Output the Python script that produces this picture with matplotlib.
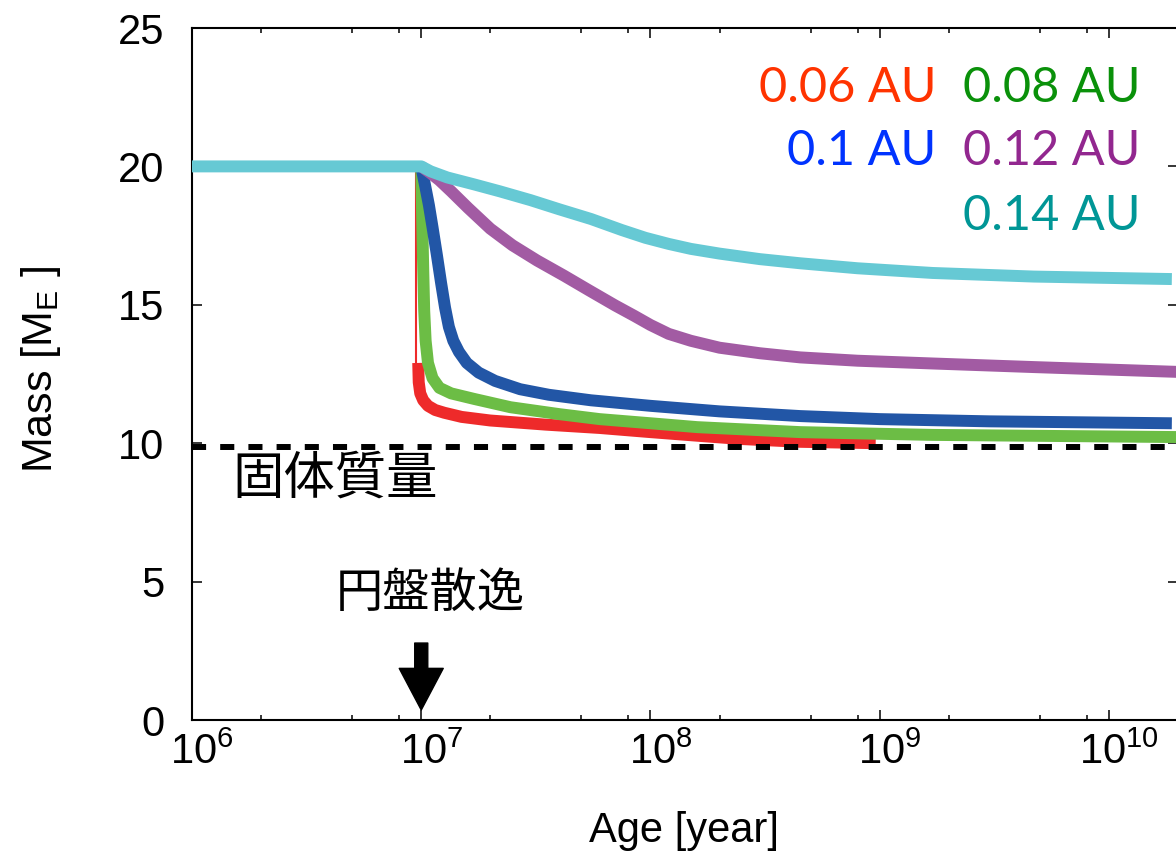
import matplotlib
matplotlib.use("Agg")
import matplotlib.pyplot as plt
from matplotlib.ticker import FixedLocator, NullFormatter
from matplotlib.transforms import ScaledTranslation

plt.rcParams['font.family'] = ['Liberation Sans', 'DejaVu Sans']
plt.rcParams['mathtext.fontset'] = 'custom'
plt.rcParams['mathtext.rm'] = 'Liberation Sans'
plt.rcParams['mathtext.it'] = 'Liberation Sans:italic'
plt.rcParams['mathtext.bf'] = 'Liberation Sans:bold'
plt.rcParams['lines.scale_dashes'] = False

######################################################################
# Data: age [year] vs. planet mass [M_E]
age_006_drop = [9.5e6, 9.5e6]
mass_006_drop = [20.0, 12.9]
age_006 = [9.7e6, 9.75e6, 9.9e6, 1.02e7, 1.07e7, 1.15e7, 1.26e7, 1.5e7, 2.0e7, 3.5e7,
           6.0e7, 1.0e8, 1.6e8, 2.5e8, 4.5e8, 9.6e8]
mass_006 = [12.9, 12.2, 11.8, 11.55, 11.35, 11.2, 11.1, 10.95, 10.82, 10.67,
            10.55, 10.4, 10.27, 10.15, 10.05, 10.0]

age_008 = [1.0e7, 1.01e7, 1.02e7, 1.03e7, 1.045e7, 1.07e7, 1.12e7, 1.2e7, 1.35e7, 1.7e7,
           2.45e7, 4.0e7, 6.0e7, 1.0e8, 1.6e8, 4.5e8, 1.7e9, 2.1e10]
mass_008 = [20.0, 18.0, 16.3, 14.8, 13.7, 12.9, 12.35, 12.0, 11.8, 11.6,
            11.3, 11.05, 10.87, 10.72, 10.58, 10.4, 10.3, 10.22]

age_010 = [1.0e7, 1.04e7, 1.08e7, 1.12e7, 1.17e7, 1.22e7, 1.27e7, 1.32e7, 1.38e7, 1.46e7,
           1.58e7, 1.78e7, 2.1e7, 2.7e7, 3.6e7, 5.5e7, 1.0e8, 2.0e8, 4.5e8, 1.0e9,
           3.0e9, 1.88e10]
mass_010 = [20.0, 19.3, 18.6, 17.8, 16.8, 15.8, 14.9, 14.2, 13.7, 13.3,
            12.9, 12.55, 12.25, 11.95, 11.75, 11.55, 11.35, 11.15, 10.98, 10.87,
            10.79, 10.72]

age_012 = [1.0e7, 1.1e7, 1.2e7, 1.35e7, 1.6e7, 2.0e7, 2.5e7, 3.2e7, 4.2e7, 5.4e7,
           7.0e7, 8.5e7, 1.0e8, 1.2e8, 1.5e8, 2.0e8, 3.0e8, 4.5e8, 8.0e8, 1.7e9,
           4.7e9, 2.1e10]
mass_012 = [20.0, 19.75, 19.5, 19.1, 18.5, 17.75, 17.15, 16.6, 16.05, 15.52,
            14.98, 14.6, 14.27, 13.95, 13.7, 13.45, 13.25, 13.1, 12.98, 12.88,
            12.75, 12.57]

age_014 = [1.0e6, 1.0e7, 1.1e7, 1.3e7, 1.7e7, 2.2e7, 3.0e7, 4.0e7, 5.5e7, 7.5e7,
           9.5e7, 1.2e8, 1.5e8, 2.0e8, 3.0e8, 4.5e8, 8.0e8, 1.7e9, 4.7e9, 1.88e10]
mass_014 = [20.0, 20.0, 19.82, 19.6, 19.35, 19.1, 18.78, 18.45, 18.1, 17.7,
            17.42, 17.2, 17.02, 16.85, 16.65, 16.5, 16.32, 16.15, 16.02, 15.93]

solid_mass = 9.88
solid_age_range = [1.0e6, 1.88e10]
disk_dispersal_age = 1.0e7

labels = ["0.06 AU", "0.08 AU", "0.1 AU", "0.12 AU", "0.14 AU"]
label_colors = ["#ff3300", "#0a910a", "#0033ff", "#92278f", "#009696"]
line_colors = ["#ee2a2a", "#6cbd45", "#2256a6", "#a25ba3", "#66c9d4"]

x_major = [1e6, 1e7, 1e8, 1e9, 1e10]
x_minor = [m * 10.0 ** e for e in range(6, 11) for m in (2, 5, 8)]
y_major = [0, 5, 10, 15, 20, 25]

######################################################################
fig = plt.figure(figsize=(11.76, 8.55), dpi=100)
ax = fig.add_axes([192 / 1176, 1 - 720 / 855, 986 / 1176, 692 / 855])

lw = 8.6
kw = dict(lw=lw, solid_capstyle='butt', solid_joinstyle='round')
ax.plot(age_006_drop, mass_006_drop, color=line_colors[0], lw=1.5, zorder=2)
ax.plot(age_006, mass_006, color=line_colors[0], zorder=2, **kw)
ax.plot(age_008, mass_008, color=line_colors[1], zorder=3, **kw)
ax.plot(age_010, mass_010, color=line_colors[2], zorder=4, **kw)
ax.plot(age_012, mass_012, color=line_colors[3], zorder=5, **kw)
ax.plot(age_014, mass_014, color=line_colors[4], zorder=6, **kw)

# solid core mass
ax.plot(solid_age_range, [solid_mass, solid_mass], color='black', lw=4.3,
        linestyle=(0, (10.15, 10.15)), dash_capstyle='butt', zorder=7)

ax.set_xscale('log')
ax.set_xlim(1e6, 2e10)
ax.set_ylim(0, 25)
ax.xaxis.set_major_locator(FixedLocator(x_major))
ax.xaxis.set_minor_locator(FixedLocator(x_minor))
ax.xaxis.set_minor_formatter(NullFormatter())
ax.yaxis.set_major_locator(FixedLocator(y_major))

ax.tick_params(which='both', direction='in', top=True, right=True, width=1.1, labelsize=30)
ax.tick_params(which='major', length=7)
ax.tick_params(which='minor', length=3.5)
ax.tick_params(axis='x', pad=9)
ax.tick_params(axis='y', pad=20)
for sp in ax.spines.values():
    sp.set_linewidth(1.5)

# shift x tick labels so the "10" sits on the tick like in the original
shift = ScaledTranslation(10 / 100, 0, fig.dpi_scale_trans)
for lab in ax.get_xticklabels():
    lab.set_transform(lab.get_transform() + shift)

fig.text(684 / 1176, 1 - 831 / 855, "Age [year]", fontsize=30, ha='center', va='center')
fig.text(41 / 1176, 1 - 370 / 855, r"Mass [M$_{\rm E}$ ]", fontsize=31,
         rotation=90, ha='center', va='center')

# curve labels
cols_x = [0.755, 0.9615, 0.755, 0.9615, 0.9615]
rows_y = [0.893, 0.893, 0.802, 0.802, 0.708]
for lab, col, xx, yy in zip(labels, label_colors, cols_x, rows_y):
    ax.text(xx, yy, lab, transform=ax.transAxes, ha='right', va='baseline',
            fontsize=35, color=col, family=['Lato', 'DejaVu Sans'])

jp = ['Noto Sans CJK JP', 'DejaVu Sans']
ax.text(4.2e6, 8.71, "固体質量", fontsize=37, ha='center', va='center', family=jp)
ax.text(1.09e7, 4.55, "円盤散逸", fontsize=34, ha='center', va='center', family=jp)

ax.annotate('', xy=(disk_dispersal_age, 0.36), xytext=(disk_dispersal_age, 2.78),
            arrowprops=dict(facecolor='black', edgecolor='black', width=9.4,
                            headwidth=31.7, headlength=30, shrink=0))

fig.savefig("out.png", dpi=100)
